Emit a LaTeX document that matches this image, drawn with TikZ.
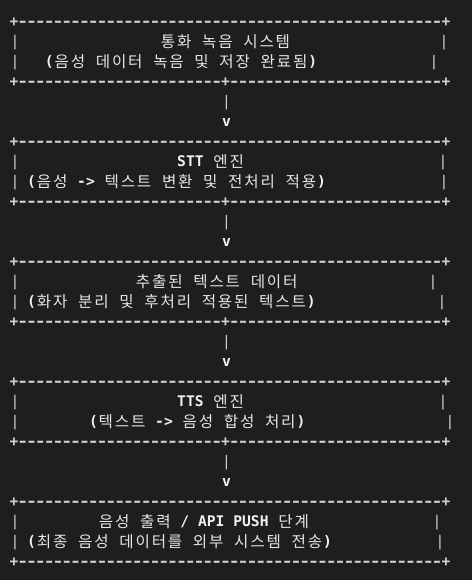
\documentclass[tikz,border=0pt]{standalone}
\usepackage{fontspec}
\setmonofont{DejaVu Sans Mono}
\newfontfamily\krfont{Noto Sans CJK KR}
\newlength\krw
\setlength\krw{16.2bp}
\newlength\cw
\setlength\cw{8.815bp}
\def\krloop#1{\ifx#1\relax\else\makebox[\krw]{#1}\expandafter\krloop\fi}
\newcommand\kr[1]{{\krfont\fontsize{15.6bp}{20bp}\selectfont\color{krcol}\raisebox{-1.2bp}{\krloop#1\relax}}}
\newcommand\lb[1]{\textbf{#1}}
\newcommand\dsh{\makebox[\cw]{\bfseries\scalebox{1.3}[1]{-}}}
\newcommand\pls{\makebox[\cw]{\bfseries +}}
\newcommand\dashrun[1]{\foreach \i in {1,...,#1}{\dsh}}
\definecolor{bgcol}{HTML}{1E1E1E}
\definecolor{linecol}{HTML}{D0D0D0}
\definecolor{txtcol}{HTML}{F0F0F0}
\definecolor{krcol}{HTML}{E6E6E6}
\newcommand\bordertop{\pls\dashrun{48}\pls}
\newcommand\bordermid{\pls\dashrun{23}\pls\dashrun{24}\pls}
\tikzset{
  asc/.style={inner sep=0pt, outer sep=0pt, anchor=base west,
    font=\ttfamily\fontsize{14.64bp}{20bp}\selectfont, text=linecol},
  txt/.style={asc, text=txtcol},
  bar/.style={asc, anchor=base},
}
\begin{document}
\begin{tikzpicture}[x=1bp,y=-1bp]
\fill[bgcol] (0,0) rectangle (472,580);
\useasboundingbox (0,0) rectangle (472,580);
% ---- box 1
\node[asc] (b1t) at (9.6,26.7) {\bordertop};
\node[bar] (b1l1) at (15,46.7) {|};
\node[txt] (b1a) at (160,46.7) {\kr{통화} \kr{녹음} \kr{시스템}};
\node[bar] (b1r1) at (444,46.7) {|};
\node[bar] (b1l2) at (15,66.7) {|};
\node[txt] (b1b) at (44.9,66.7) {\lb{(}\kr{음성} \kr{데이터} \kr{녹음} \kr{및} \kr{저장} \kr{완료됨}\lb{)}};
\node[bar] (b1r2) at (434,66.7) {|};
\node[asc] (b1bt) at (9.6,86.7) {\bordermid};
\node[bar] (a1p) at (226.5,106.7) {|};
\node[bar,text=txtcol] (a1v) at (226.5,126.7) {\lb{v}};
% ---- box 2
\node[asc] (b2t) at (9.6,146.7) {\bordertop};
\node[bar] (b2l1) at (15,166.7) {|};
\node[txt] (b2a) at (177.2,166.7) {\lb{STT} \kr{엔진}};
\node[bar] (b2r1) at (443,166.7) {|};
\node[bar] (b2l2) at (15,186.7) {|};
\node[txt] (b2b) at (27.2,186.7) {\lb{(}\kr{음성} \lb{->} \kr{텍스트} \kr{변환} \kr{및} \kr{전처리} \kr{적용}\lb{)}};
\node[bar] (b2r2) at (444,186.7) {|};
\node[asc] (b2bt) at (9.6,206.7) {\bordermid};
\node[bar] (a2p) at (226.5,226.7) {|};
\node[bar,text=txtcol] (a2v) at (226.5,246.7) {\lb{v}};
% ---- box 3
\node[asc] (b3t) at (9.6,266.7) {\bordertop};
\node[bar] (b3l1) at (15,286.7) {|};
\node[txt] (b3a) at (135,286.7) {\kr{추출된} \kr{텍스트} \kr{데이터}};
\node[bar] (b3r1) at (433,286.7) {|};
\node[bar] (b3l2) at (15,306.7) {|};
\node[txt] (b3b) at (27.2,306.7) {\lb{(}\kr{화자} \kr{분리} \kr{및} \kr{후처리} \kr{적용된} \kr{텍스트}\lb{)}};
\node[bar] (b3r2) at (442,306.7) {|};
\node[asc] (b3bt) at (9.6,326.7) {\bordermid};
\node[bar] (a3p) at (226.5,346.7) {|};
\node[bar,text=txtcol] (a3v) at (226.5,366.7) {\lb{v}};
% ---- box 4
\node[asc] (b4t) at (9.6,386.7) {\bordertop};
\node[bar] (b4l1) at (15,406.7) {|};
\node[txt] (b4a) at (177.2,406.7) {\lb{TTS} \kr{엔진}};
\node[bar] (b4r1) at (443,406.7) {|};
\node[bar] (b4l2) at (15,426.7) {|};
\node[txt] (b4b) at (89,426.7) {\lb{(}\kr{텍스트} \lb{->} \kr{음성} \kr{합성} \kr{처리}\lb{)}};
\node[bar] (b4r2) at (450,426.7) {|};
\node[asc] (b4bt) at (9.6,446.7) {\bordermid};
\node[bar] (a4p) at (226.5,466.7) {|};
\node[bar,text=txtcol] (a4v) at (226.5,486.7) {\lb{v}};
% ---- box 5
\node[asc] (b5t) at (9.6,506.7) {\bordertop};
\node[bar] (b5l1) at (15,526.7) {|};
\node[txt] (b5a) at (98,526.7) {\kr{음성} \kr{출력} \lb{/ API PUSH} \kr{단계}};
\node[bar] (b5r1) at (437,526.7) {|};
\node[bar] (b5l2) at (15,546.7) {|};
\node[txt] (b5b) at (27.2,546.7) {\lb{(}\kr{최종} \kr{음성} \kr{데이터를} \kr{외부} \kr{시스템} \kr{전송}\lb{)}};
\node[bar] (b5r2) at (440,546.7) {|};
\node[asc] (b5bt) at (9.6,566.7) {\bordertop};
\end{tikzpicture}
\end{document}
